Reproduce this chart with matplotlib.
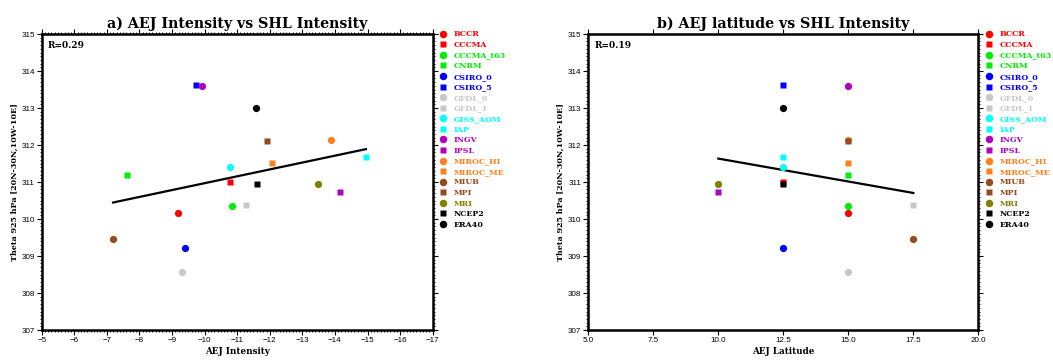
import numpy as np
import matplotlib
matplotlib.use("Agg")
import matplotlib.pyplot as plt
from matplotlib.lines import Line2D
from matplotlib.ticker import MultipleLocator, NullLocator

models = ["BCCR", "CCCMA", "CCCMA_t63", "CNRM", "CSIRO_0", "CSIRO_5", "GFDL_0", "GFDL_1",
          "GISS_AOM", "IAP", "INGV", "IPSL", "MIROC_HI", "MIROC_ME", "MIUB", "MPI", "MRI",
          "NCEP2", "ERA40"]
colors = ["#ff0000", "#ff0000", "#00ee00", "#00ee00", "#0000ff", "#0000ff", "#c8c8c8", "#c8c8c8",
          "#00ffff", "#00ffff", "#b000c0", "#b000c0", "#ff8020", "#ff8020", "#964b1e", "#964b1e",
          "#808000", "#000000", "#000000"]
markers = ["o", "s", "o", "s", "o", "s", "o", "s", "o", "s", "o", "s", "o", "s", "o", "s", "o", "s", "o"]

theta = [310.17, 311.00, 310.35, 311.19, 309.23, 313.62, 308.57, 310.39, 311.40, 311.68,
         313.59, 310.73, 312.13, 311.51, 309.47, 312.11, 310.95, 310.95, 313.01]
aej_int = [-9.18, -10.77, -10.83, -7.61, -9.41, -9.74, -9.31, -11.27, -10.79, -14.95,
           -9.92, -14.15, -13.88, -12.06, -7.19, -11.91, -13.49, -11.60, -11.58]
aej_lat = [15.0, 12.5, 15.0, 15.0, 12.5, 12.5, 15.0, 17.5, 12.5, 12.5,
           15.0, 10.0, 15.0, 15.0, 17.5, 15.0, 10.0, 12.5, 12.5]

panels = [
    dict(x=aej_int, title="a) AEJ Intensity vs SHL Intensity", xlabel="AEJ Intensity",
         rtext="R=0.29", xlim=(-5, -17), major=1, minor=0.1, fmt=None),
    dict(x=aej_lat, title="b) AEJ latitude vs SHL Intensity", xlabel="AEJ Latitude",
         rtext="R=0.19", xlim=(5, 20), major=2.5, minor=None, fmt="%.1f"),
]

fig = plt.figure(figsize=(10.53, 3.6), dpi=100)
serif = "DejaVu Serif"
rects = [[0.0396, 0.0833, 0.3713, 0.8222], [0.5587, 0.0833, 0.3704, 0.8222]]

for p, rect in zip(panels, rects):
    ax = fig.add_axes(rect)
    x = np.array(p["x"])
    y = np.array(theta)
    for xi, yi, c, m in zip(x, y, colors, markers):
        ax.plot(xi, yi, marker=m, color=c, ms=5.2 if m == "o" else 4.0, ls="none", mec="none")
    k, b = np.polyfit(x, y, 1)
    xs = np.array([x.min(), x.max()])
    ax.plot(xs, k * xs + b, color="black", lw=1.6, zorder=1)
    ax.set_xlim(*p["xlim"])
    ax.set_ylim(307, 315)
    ax.xaxis.set_major_locator(MultipleLocator(p["major"]))
    if p["minor"]:
        ax.xaxis.set_minor_locator(MultipleLocator(p["minor"]))
    else:
        ax.xaxis.set_minor_locator(NullLocator())
    if p["fmt"]:
        ax.xaxis.set_major_formatter(matplotlib.ticker.FormatStrFormatter(p["fmt"]))
    ax.yaxis.set_major_locator(MultipleLocator(1))
    ax.yaxis.set_minor_locator(MultipleLocator(0.1))
    ax.tick_params(which="major", direction="out", length=3.5, width=0.8, labelsize=5.8,
                   top=True, right=True, pad=1.5)
    ax.tick_params(which="minor", direction="out", length=1.6, width=0.6, top=True, right=True)
    for s in ax.spines.values():
        s.set_linewidth(1.8)
    for lab in ax.get_xticklabels() + ax.get_yticklabels():
        lab.set_family("Liberation Sans")
    ax.set_title(p["title"], fontsize=10.2, fontweight="bold", family=serif, pad=4)
    ax.set_xlabel(p["xlabel"], fontsize=6.3, fontweight="bold", family=serif, labelpad=2)
    ax.set_ylabel("Theta 925 hPa [20N-30N,10W-10E]", fontsize=5.8, fontweight="bold",
                  family=serif, labelpad=2)
    ax.text(0.015, 0.975, p["rtext"], transform=ax.transAxes, ha="left", va="top",
            fontsize=6.5, fontweight="bold", family=serif)
    handles = [Line2D([], [], marker=m, color=c, ls="none", mec="none",
                      ms=5.4 if m == "o" else 4.0, label=n)
               for n, c, m in zip(models, colors, markers)]
    ax.legend(handles=handles, loc="upper left", bbox_to_anchor=(1.016, 1.012),
              frameon=False, prop=dict(family=serif, weight="bold", size=5.7),
              labelspacing=0.325, handlelength=1.0, handletextpad=0.9,
              borderaxespad=0, borderpad=0, labelcolor=colors)

fig.savefig("out.png", dpi=100)
